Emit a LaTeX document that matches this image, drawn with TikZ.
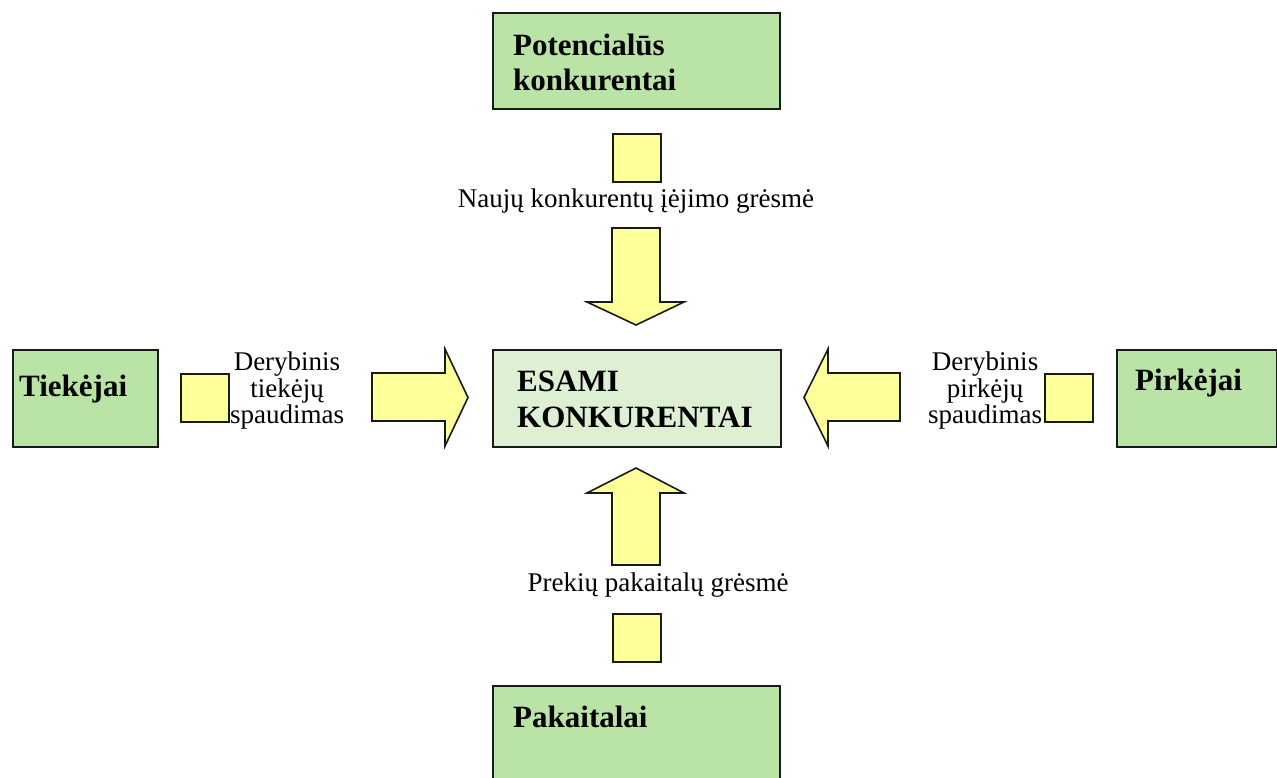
\documentclass[tikz,border=0pt]{standalone}
\usepackage{fontspec}
\setmainfont{Liberation Serif}
\definecolor{lineC}{RGB}{25,25,25}
\definecolor{greenC}{RGB}{186,228,166}
\definecolor{paleC}{RGB}{221,240,211}
\definecolor{yelC}{RGB}{255,255,153}
\begin{document}
\begin{tikzpicture}[x=1pt,y=-1pt,
  gbox/.style={draw=lineC, fill=greenC, line width=1.8pt, inner sep=0pt, anchor=north west},
  cbox/.style={draw=lineC, fill=paleC, line width=1.8pt, inner sep=0pt, anchor=north west},
  ysq/.style={draw=lineC, fill=yelC, line width=1.6pt, inner sep=0pt, anchor=north west, minimum width=48pt, minimum height=48pt},
  yarrow/.style={draw=lineC, fill=yelC, line width=1.6pt, line join=miter},
  btxt/.style={inner sep=0pt, anchor=base west, font=\fontsize{31}{36}\selectfont\bfseries},
  ntxt/.style={inner sep=0pt, anchor=base, font=\fontsize{27}{27}\selectfont}]
\useasboundingbox (0,0) rectangle (1277,777);
\clip (0,0) rectangle (1277,777);

% green boxes
\node[gbox, minimum width=287pt, minimum height=96pt] (pot) at (492,12) {};
\node[cbox, minimum width=288pt, minimum height=97pt] (esa) at (492,349) {};
\node[gbox, minimum width=145pt, minimum height=97pt] (tie) at (12,349) {};
\node[gbox, minimum width=160pt, minimum height=97pt] (pir) at (1116,349) {};
\node[gbox, minimum width=287pt, minimum height=120pt] (pak) at (492,685) {};

% small squares
\node[ysq] (sqt) at (612,133) {};
\node[ysq] (sql) at (180,373) {};
\node[ysq] (sqr) at (1044,373) {};
\node[ysq] (sqb) at (612,613) {};

% block arrows
\draw[yarrow] (612,228) -- (660,228) -- (660,302) -- (684,302) -- (636,325) -- (587,302) -- (612,302) -- cycle;
\draw[yarrow] (612,565) -- (660,565) -- (660,493) -- (684,493) -- (636,468) -- (587,493) -- (612,493) -- cycle;
\draw[yarrow] (372,373) -- (445,373) -- (445,349) -- (468,397.5) -- (445,446) -- (445,421) -- (372,421) -- cycle;
\draw[yarrow] (900,373) -- (828,373) -- (828,349) -- (804,397.5) -- (828,446) -- (828,421) -- (900,421) -- cycle;

% bold labels
\node[btxt] (tpot1) at (513,55) {Potencialūs};
\node[btxt] (tpot2) at (513,90) {konkurentai};
\node[btxt] (tesa1) at (517,391) {ESAMI};
\node[btxt] (tesa2) at (517,427) {KONKURENTAI};
\node[btxt] (ttie) at (19,396) {Tiekėjai};
\node[btxt] (tpir) at (1135,390) {Pirkėjai};
\node[btxt] (tpak) at (513,727) {Pakaitalai};

% normal labels
\node[ntxt] (tnau) at (636,207) {Naujų konkurentų įėjimo grėsmė};
\node[ntxt] (tpre) at (658,591) {Prekių pakaitalų grėsmė};
\node[ntxt] (tdl1) at (287,370) {Derybinis};
\node[ntxt] (tdl2) at (287,397) {tiekėjų};
\node[ntxt] (tdl3) at (287,423) {spaudimas};
\node[ntxt] (tdr1) at (985,370) {Derybinis};
\node[ntxt] (tdr2) at (985,397) {pirkėjų};
\node[ntxt] (tdr3) at (985,423) {spaudimas};
\end{tikzpicture}
\end{document}
